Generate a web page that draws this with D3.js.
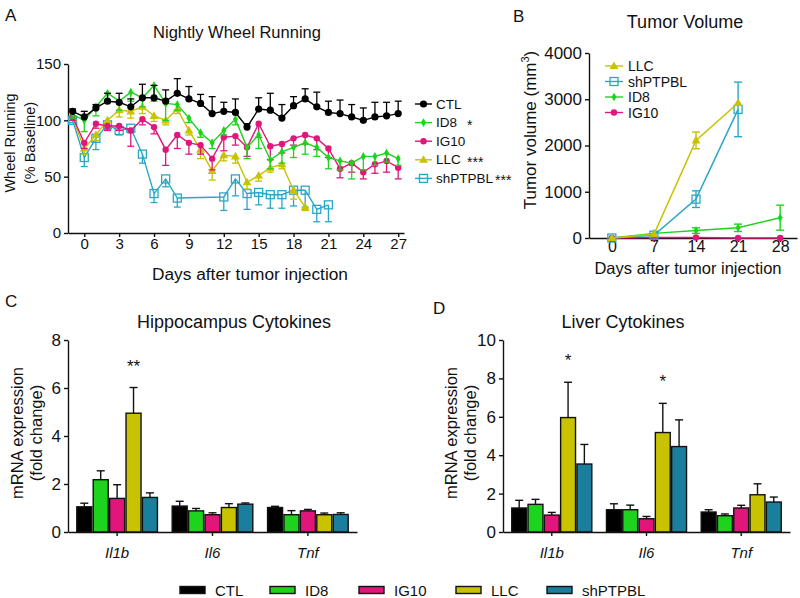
<!DOCTYPE html>
<html><head><meta charset="utf-8">
<script src="https://cdn.jsdelivr.net/npm/d3@7/dist/d3.min.js"></script>
<style>body{margin:0;background:#fff}svg{display:block;font-family:"Liberation Sans",Arial,sans-serif}</style>
</head><body><svg id="c" width="800" height="598"></svg>
<script>
// ---------- DATA ----------
const seriesNames = ["CTL","ID8","IG10","LLC","shPTPBL"];
const colors = {CTL:"#000000",ID8:"#1ed31e",IG10:"#e0167a",LLC:"#c8c200",shPTPBL:"#1a7f9c"};
const lineColors = {CTL:"#000000",ID8:"#1ed31e",IG10:"#e0167a",LLC:"#c8c200",shPTPBL:"#2aa7c7"};

// Panel A: nightly wheel running (% baseline), days -1..27
const daysA = d3.range(-1,28);
const ctlA   = [108,103,111,117,116,112,120,120,117,124,119,115,106,108,107,94,110,109,102,113,119,112,107,106,103,100,103,104,106];
const ctlErr = [2,5,3,7,8,7,12,11,10,13,11,8,15,8,12,3,10,15,12,8,9,13,10,12,11,11,13,12,11];
const id8A   = [105,100,112,124,117,125,120,131,115,114,102,89,80,91,101,76,87,65,72,76,80,76,67,64,62,68,68,71,66];
const id8Err = [3,10,8,8,8,8,8,14,15,5,4,4,5,4,5,10,12,8,10,9,10,8,10,8,14,12,8,8,6];
const ig10A  = [103,80,97,95,95,91,101,94,74,87,80,78,66,85,86,76,97,77,79,84,87,84,75,57,62,54,61,64,58];
const ig10Err= [3,5,4,4,4,14,5,6,14,12,10,8,10,12,8,8,12,12,8,6,8,10,8,8,8,6,8,10,10];
const llcA   = [102,75,87,100,109,108,112,104,100,110,91,74,55,69,68,45,51,58,61,38,23,null,null,null,null,null,null,null,null];
const llcErr = [2,5,5,6,6,6,6,5,4,4,4,8,8,5,6,6,5,4,4,8,3,0,0,0,0,0,0,0,0];
const shA    = [100,67,84,96,91,93,70,35,48,31,null,null,null,32,48,35,36,34,34,38,38,21,25,null,null,null,null,null,null];
const shErr  = [2,8,10,4,4,4,8,8,7,8,0,0,0,12,15,14,11,12,12,14,15,11,15,0,0,0,0,0,0];
const ticksA = [0,3,6,9,12,15,18,21,24,27];
const yTicksA = [0,50,100,150];

// Panel B: tumor volume (mm3)
const daysB = [0,7,14,21,28];
const llcB = [0,80,2110,2920,null];   const llcBErr = [0,20,180,0,0];
const shB  = [0,60,840,2780,null];    const shBErr  = [0,20,180,590,0];
const id8B = [0,100,160,220,440];     const id8BErr = [0,20,60,80,270];
const ig10B= [0,10,10,0,0];           const ig10BErr= [0,0,0,0,0];
const yTicksB = [0,1000,2000,3000,4000];

// Panels C & D: cytokine mRNA fold change
const genes = ["Il1b","Il6","Tnf"];
const hippoMean = {CTL:[1.05,1.08,1.02],ID8:[2.18,0.88,0.72],IG10:[1.40,0.72,0.88],LLC:[4.95,1.02,0.72],shPTPBL:[1.44,1.16,0.73]};
const hippoErr  = {CTL:[0.15,0.2,0.05],ID8:[0.37,0.1,0.17],IG10:[0.57,0.08,0.06],LLC:[1.07,0.16,0.07],shPTPBL:[0.19,0.05,0.07]};
const liverMean = {CTL:[1.25,1.16,1.04],ID8:[1.44,1.16,0.85],IG10:[0.88,0.69,1.25],LLC:[5.96,5.18,1.94],shPTPBL:[3.54,4.45,1.56]};
const liverErr  = {CTL:[0.4,0.31,0.12],ID8:[0.26,0.24,0.09],IG10:[0.14,0.12,0.14],LLC:[1.84,1.52,0.57],shPTPBL:[1.02,1.39,0.26]};

// ---------- DRAW ----------
const svg = d3.select("#c");
const FF = "Liberation Sans, Arial, sans-serif";

function marker(g, type, x, y, color){
  if(type==="circle") g.append("circle").attr("cx",x).attr("cy",y).attr("r",3.6).attr("fill",color);
  else if(type==="dot") g.append("path").attr("d",d3.symbol(d3.symbolDiamond,22)()).attr("transform",`translate(${x},${y})`).attr("fill",color);
  else if(type==="small") g.append("circle").attr("cx",x).attr("cy",y).attr("r",3.2).attr("fill",color);
  else if(type==="tri") g.append("path").attr("d",d3.symbol(d3.symbolTriangle,34)()).attr("transform",`translate(${x},${y+0.5})`).attr("fill",color);
  else if(type==="sq") g.append("rect").attr("x",x-4).attr("y",y-4).attr("width",8).attr("height",8).attr("fill","none").attr("stroke",color).attr("stroke-width",1.3);
}
const markerType = {CTL:"circle",ID8:"dot",IG10:"small",LLC:"tri",shPTPBL:"sq"};

function text(x,y,s,opts={}){
  const t = svg.append("text").attr("x",x).attr("y",y).text(s)
    .attr("font-size",opts.size||14).attr("fill","#111")
    .attr("text-anchor",opts.anchor||"start");
  if(opts.italic) t.attr("font-style","italic");
  if(opts.rotate) t.attr("transform",`rotate(-90,${x},${y})`);
  return t;
}
function styleAxis(a,size){
  a.attr("font-family",FF);
  a.selectAll("text").attr("font-size",size).attr("fill","#111");
  a.select(".domain").attr("stroke","#111").attr("stroke-width",1.4);
  a.selectAll(".tick line").attr("stroke","#111").attr("stroke-width",1.4);
}

// ===== Panel A =====
{
  const x = d3.scaleLinear().domain([-1.4,27.5]).range([68,404]);
  const y = d3.scaleLinear().domain([0,150]).range([233,64]);
  const g = svg.append("g");
  g.append("g").attr("transform","translate(0,233)")
    .call(d3.axisBottom(x).tickValues(ticksA).tickSize(4).tickSizeOuter(0))
    .call(a=>{styleAxis(a,15); a.selectAll("text").attr("y",5);});
  g.append("g").attr("transform","translate(68,0)")
    .call(d3.axisLeft(y).tickValues(yTicksA).tickSize(4).tickSizeOuter(0))
    .call(a=>styleAxis(a,15));

  const sets = [["shPTPBL",shA,shErr,-1],["LLC",llcA,llcErr,-1],["IG10",ig10A,ig10Err,-1],["ID8",id8A,id8Err,-1],["CTL",ctlA,ctlErr,1]];
  sets.forEach(([name,vals,errs,dir])=>{
    const col = lineColors[name];
    const pts = daysA.map((d,i)=>({d,v:vals[i],e:errs[i]})).filter(p=>p.v!=null);
    const sg = g.append("g");
    pts.forEach(p=>{
      if(!p.e) return;
      const y0=y(p.v), y1=y(p.v+dir*p.e);
      sg.append("line").attr("x1",x(p.d)).attr("x2",x(p.d)).attr("y1",y0).attr("y2",y1).attr("stroke",col).attr("stroke-width",1.3);
      sg.append("line").attr("x1",x(p.d)-3.5).attr("x2",x(p.d)+3.5).attr("y1",y1).attr("y2",y1).attr("stroke",col).attr("stroke-width",1.3);
    });
    sg.append("path").datum(pts).attr("fill","none").attr("stroke",col).attr("stroke-width",1.4)
      .attr("d",d3.line().x(p=>x(p.d)).y(p=>y(p.v)));
    pts.forEach(p=>marker(sg,markerType[name],x(p.d),y(p.v),col));
  });

  text(5,21,"A",{size:17});
  text(237,38,"Nightly Wheel Running",{size:16.5,anchor:"middle"});
  text(15,143,"Wheel Running",{size:14.5,anchor:"middle",rotate:true});
  text(35,143,"(% Baseline)",{size:14.5,anchor:"middle",rotate:true});
  text(250,280,"Days after tumor injection",{size:17.3,anchor:"middle"});

  const leg = [["CTL",""],["ID8","*"],["IG10",""],["LLC","***"],["shPTPBL","***"]];
  leg.forEach(([n,st],i)=>{
    const yy = 104 + i*18.6;
    const col = lineColors[n];
    svg.append("line").attr("x1",415).attr("x2",432).attr("y1",yy).attr("y2",yy).attr("stroke",col).attr("stroke-width",1.4);
    marker(svg,markerType[n],423.5,yy,col);
    text(436,yy+4.5,n,{size:13.5});
    if(st) text(n==="shPTPBL"?495:467,yy+7,st,{size:14});
  });
}

// ===== Panel B =====
{
  const x = d3.scaleLinear().domain([-3.8,30.8]).range([589,797]);
  const y = d3.scaleLinear().domain([0,4000]).range([238,53]);
  const g = svg.append("g");
  g.append("g").attr("transform","translate(0,238)")
    .call(d3.axisBottom(x).tickValues(daysB).tickSize(4).tickSizeOuter(0))
    .call(a=>{styleAxis(a,16); a.selectAll("text").attr("y",2.5);});
  g.append("g").attr("transform","translate(589,0)")
    .call(d3.axisLeft(y).tickValues(yTicksB).tickFormat(d3.format("d")).tickSize(4).tickSizeOuter(0))
    .call(a=>styleAxis(a,17));

  const sets = [["IG10",ig10B,ig10BErr],["ID8",id8B,id8BErr],["shPTPBL",shB,shBErr],["LLC",llcB,llcBErr]];
  sets.forEach(([name,vals,errs])=>{
    const col = lineColors[name];
    const pts = daysB.map((d,i)=>({d,v:vals[i],e:errs[i]})).filter(p=>p.v!=null);
    const sg = g.append("g");
    pts.forEach(p=>{
      if(!p.e || p.e<40) return;
      const ya=y(p.v+p.e), yb=y(Math.max(0,p.v-p.e));
      sg.append("line").attr("x1",x(p.d)).attr("x2",x(p.d)).attr("y1",ya).attr("y2",yb).attr("stroke",col).attr("stroke-width",1.4);
      [ya,yb].forEach(yy=>sg.append("line").attr("x1",x(p.d)-4).attr("x2",x(p.d)+4).attr("y1",yy).attr("y2",yy).attr("stroke",col).attr("stroke-width",1.4));
    });
    sg.append("path").datum(pts).attr("fill","none").attr("stroke",col).attr("stroke-width",1.5)
      .attr("d",d3.line().x(p=>x(p.d)).y(p=>y(p.v)));
    pts.forEach(p=>marker(sg,markerType[name],x(p.d),y(p.v),col));
  });

  text(513,22,"B",{size:17});
  text(685,28,"Tumor Volume",{size:18,anchor:"middle"});
  const yl = text(536,130,"",{size:17,anchor:"middle",rotate:true});
  yl.append("tspan").text("Tumor volume (mm");
  yl.append("tspan").text("3").attr("font-size",11).attr("dy",-7);
  yl.append("tspan").text(")").attr("dy",7);
  text(688,273.5,"Days after tumor injection",{size:16.5,anchor:"middle"});

  ["LLC","shPTPBL","ID8","IG10"].forEach((n,i)=>{
    const yy = 66 + i*15.5;
    const col = lineColors[n];
    svg.append("line").attr("x1",605).attr("x2",623).attr("y1",yy).attr("y2",yy).attr("stroke",col).attr("stroke-width",1.4);
    marker(svg,markerType[n],614,yy,col);
    text(628,yy+5,n,{size:14});
  });
}

// ===== Panels C & D =====
function barPanel(x0, x1, ymax, yticks, means, errs, letter, letterPos, title, titleX, ylabX, stars){
  const y = d3.scaleLinear().domain([0,ymax]).range([532,340]);
  const xg = d3.scaleBand().domain(genes).range([x0,x1]).paddingInner(0.14).paddingOuter(0.085);
  const xs = d3.scaleBand().domain(seriesNames).range([0,xg.bandwidth()]).padding(0);
  const g = svg.append("g");
  genes.forEach((gene,gi)=>{
    seriesNames.forEach(s=>{
      const bx = xg(gene)+xs(s), bw = xs.bandwidth();
      const v = means[s][gi], e = errs[s][gi];
      const cx = bx+bw/2;
      g.append("line").attr("x1",cx).attr("x2",cx).attr("y1",y(v)).attr("y2",y(v+e)).attr("stroke","#111").attr("stroke-width",1.4);
      g.append("line").attr("x1",cx-4).attr("x2",cx+4).attr("y1",y(v+e)).attr("y2",y(v+e)).attr("stroke","#111").attr("stroke-width",1.4);
      g.append("rect").attr("x",bx+0.7).attr("y",y(v)).attr("width",bw-1.4).attr("height",y(0)-y(v))
        .attr("fill",colors[s]).attr("stroke","#111").attr("stroke-width",1.4);
    });
  });
  g.append("g").attr("transform","translate(0,532)")
    .call(d3.axisBottom(xg).tickSize(4).tickSizeOuter(0))
    .call(a=>{styleAxis(a,15); a.selectAll("text").remove();});
  g.append("g").attr("transform",`translate(${x0},0)`)
    .call(d3.axisLeft(y).tickValues(yticks).tickSize(4).tickSizeOuter(0))
    .call(a=>styleAxis(a,17));
  genes.forEach(gene=>text(xg(gene)+xg.bandwidth()/2,558,gene,{size:15,anchor:"middle",italic:true}));
  stars.forEach(([gi,s,str])=>{
    const gene = genes[gi];
    const cx = xg(gene)+xs(s)+xs.bandwidth()/2;
    const top = means[s][gi]+errs[s][gi];
    text(cx, y(top)-16, str, {size:17,anchor:"middle"});
  });
  text(letterPos[0],letterPos[1],letter,{size:17});
  text(titleX,328,title,{size:18,anchor:"middle"});
  text(ylabX,433,"mRNA expression",{size:16.5,anchor:"middle",rotate:true});
  text(ylabX+19,433,"(fold change)",{size:16.5,anchor:"middle",rotate:true});
}
barPanel(68,357,8,[0,2,4,6,8],hippoMean,hippoErr,"C",[5,307],"Hippocampus Cytokines",234,23,[[0,"LLC","**"]]);
barPanel(503,790,10,[0,2,4,6,8,10],liverMean,liverErr,"D",[433,314],"Liver Cytokines",623,457,[[0,"LLC","*"],[1,"LLC","*"]]);

// bottom legend
const legX = [180,270,359,456,547];
seriesNames.forEach((s,i)=>{
  svg.append("rect").attr("x",legX[i]).attr("y",586.5).attr("width",25).attr("height",7)
    .attr("fill",colors[s]).attr("stroke","#111").attr("stroke-width",1.4);
  text(legX[i]+35,596,s,{size:15});
});
</script></body></html>
